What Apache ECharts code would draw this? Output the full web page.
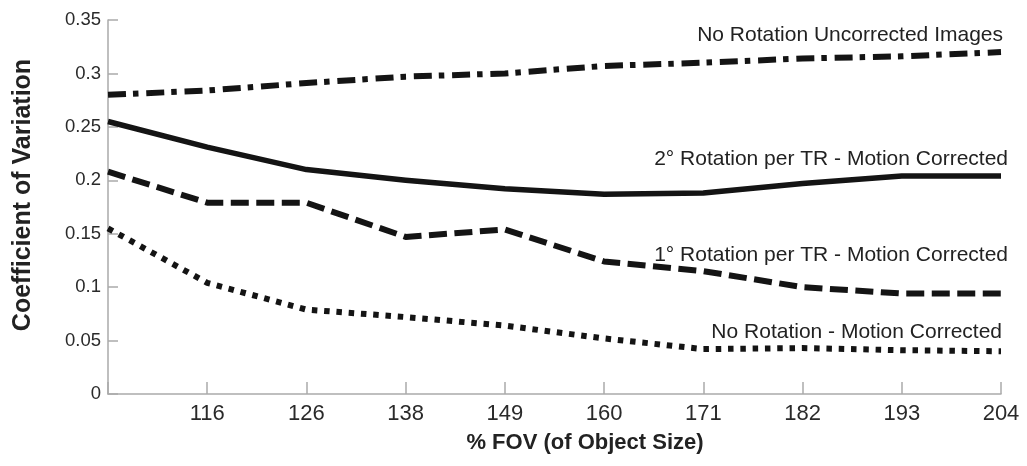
<!DOCTYPE html>
<html>
<head>
<meta charset="utf-8">
<script src="https://cdn.jsdelivr.net/npm/echarts@6/dist/echarts.min.js"></script>
<style>
html,body{margin:0;padding:0;background:#fff;}
#chart{width:1027px;height:466px;}
</style>
</head>
<body>
<div id="chart"></div>
<script>
// Category labels (first point is at the y-axis and has no label)
var categories = ['', '116', '126', '138', '149', '160', '171', '182', '193', '204'];

var seriesNames = [
  'No Rotation Uncorrected Images',
  '2° Rotation per TR - Motion Corrected',
  '1° Rotation per TR - Motion Corrected',
  'No Rotation - Motion Corrected'
];

var noRotUncorrected = [0.280, 0.284, 0.291, 0.297, 0.300, 0.307, 0.310, 0.314, 0.316, 0.320];
var rot2Corrected    = [0.255, 0.231, 0.210, 0.200, 0.192, 0.187, 0.188, 0.197, 0.204, 0.204];
var rot1Corrected    = [0.208, 0.179, 0.179, 0.147, 0.154, 0.124, 0.115, 0.100, 0.094, 0.094];
var noRotCorrected   = [0.155, 0.104, 0.079, 0.072, 0.064, 0.052, 0.042, 0.043, 0.041, 0.040];

var FONT = '"Liberation Sans", Arial, Helvetica, sans-serif';

// label styling for the text placed at the end of each line
var endLabelStyles = [
  {distance: 6,  offset: [2, 0]},
  {distance: 6,  offset: [7, 0]},
  {distance: 28, offset: [7, 0]},
  {distance: 9,  offset: [1, 0]}
];

function withEndLabel(values, idx) {
  return values.map(function (v, i) {
    if (i !== values.length - 1) return v;
    var st = endLabelStyles[idx];
    return {
      value: v,
      label: {
        show: true,
        formatter: seriesNames[idx],
        position: 'top',
        align: 'right',
        distance: st.distance,
        offset: st.offset,
        fontFamily: FONT,
        fontSize: 21,
        color: '#222'
      }
    };
  });
}

var lineStyles = [
  {width: 6, type: [18, 7, 5.5, 7.8]},
  {width: 5.5, type: 'solid'},
  {width: 6, type: [18, 7.5]},
  {width: 6, type: [5.5, 6.8]}
];

var valuesList = [noRotUncorrected, rot2Corrected, rot1Corrected, noRotCorrected];

var series = valuesList.map(function (vals, idx) {
  return {
    name: seriesNames[idx],
    type: 'line',
    data: withEndLabel(vals, idx),
    showSymbol: true,
    symbol: 'circle',
    symbolSize: 0,
    silent: true,
    animation: false,
    lineStyle: {
      color: '#141414',
      width: lineStyles[idx].width,
      type: lineStyles[idx].type,
      cap: 'butt',
      join: 'round'
    },
    itemStyle: {color: '#141414'}
  };
});

var chart = echarts.init(document.getElementById('chart'), null, {renderer: 'canvas'});
chart.setOption({
  backgroundColor: '#ffffff',
  animation: false,
  grid: {left: 108, right: 26, top: 20, bottom: 72, containLabel: false},
  xAxis: {
    type: 'category',
    data: categories,
    boundaryGap: false,
    name: '% FOV (of Object Size)',
    nameLocation: 'middle',
    nameGap: 38,
    nameTextStyle: {fontFamily: FONT, fontSize: 22, fontWeight: 'bold', color: '#222', padding: [0, 0, 0, 61]},
    axisLine: {show: true, lineStyle: {color: '#aaaaaa', width: 1.5}},
    axisTick: {show: true, inside: true, length: 12, interval: 0, lineStyle: {color: '#aaaaaa', width: 1.5}},
    axisLabel: {interval: 0, margin: 9, fontFamily: FONT, fontSize: 22, color: '#2a2a2a'},
    splitLine: {show: false}
  },
  yAxis: {
    type: 'value',
    min: 0,
    max: 0.35,
    interval: 0.05,
    name: 'Coefficient of Variation',
    nameLocation: 'middle',
    nameGap: 72,
    nameTextStyle: {fontFamily: FONT, fontSize: 25, fontWeight: 'bold', color: '#222', padding: [0, 0, 0, 24]},
    axisLine: {show: true, lineStyle: {color: '#aaaaaa', width: 1.5}},
    axisTick: {show: true, inside: true, length: 10, lineStyle: {color: '#aaaaaa', width: 1.5}},
    axisLabel: {margin: 7, fontFamily: FONT, fontSize: 18.5, color: '#2a2a2a'},
    splitLine: {show: false}
  },
  series: series
});
</script>
</body>
</html>
